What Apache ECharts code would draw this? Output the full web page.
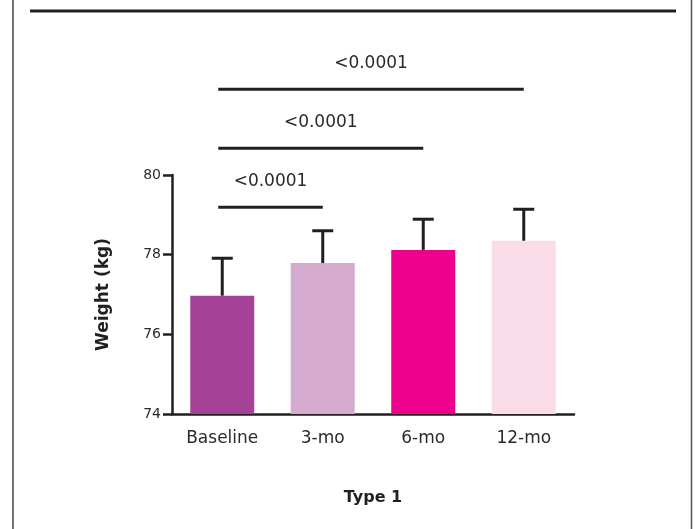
<!DOCTYPE html>
<html>
<head>
<meta charset="utf-8">
<script src="https://cdn.jsdelivr.net/npm/echarts@6/dist/echarts.min.js"></script>
<style>html,body{margin:0;padding:0;background:#fff;}#c{width:696px;height:529px;}</style>
</head>
<body>
<div id="c"></div>
<script>
const categories = ['Baseline', '3-mo', '6-mo', '12-mo'];
const means = [76.97, 77.79, 78.12, 78.35];
const upperErr = [77.91, 78.60, 78.89, 79.14];
const barColors = ['#A54196', '#D4AACF', '#EC008C', '#FBDDEA'];
const yTicks = [74, 76, 78, 80];
const bracketTargets = ['3-mo', '6-mo', '12-mo'];
const bracketLevels = [79.19, 80.67, 82.15];
const bracketLabels = ['<0.0001', '<0.0001', '<0.0001'];

const INK = '#231F20';
const FONT = 'DejaVu Sans';

const chart = echarts.init(document.getElementById('c'), null, {renderer: 'canvas'});
chart.setOption({
  animation: false,
  backgroundColor: '#fff',
  textStyle: {fontFamily: FONT},
  grid: {left: 172, top: 175, width: 402, height: 239, containLabel: false},
  xAxis: {
    type: 'category',
    data: categories,
    name: 'Type 1',
    nameLocation: 'middle',
    nameGap: 76,
    nameTextStyle: {fontFamily: FONT, fontWeight: 'bold', fontSize: 16, color: INK},
    axisLine: {lineStyle: {color: INK, width: 2.5}},
    axisTick: {alignWithLabel: true, length: 9, lineStyle: {color: INK, width: 2.5}},
    axisLabel: {fontFamily: FONT, fontSize: 17, color: '#2a2a2a', margin: 16},
    splitLine: {show: false}
  },
  yAxis: {
    type: 'value',
    min: yTicks[0],
    max: yTicks[yTicks.length - 1],
    interval: 2,
    name: 'Weight (kg)',
    nameLocation: 'middle',
    nameRotate: 90,
    nameGap: 60,
    nameTextStyle: {fontFamily: FONT, fontWeight: 'bold', fontSize: 17, color: INK},
    axisLine: {show: true, lineStyle: {color: INK, width: 2.5}},
    axisTick: {show: true, length: 9, lineStyle: {color: INK, width: 2.5}},
    axisLabel: {fontFamily: FONT, fontSize: 14, color: '#2a2a2a', margin: 11},
    splitLine: {show: false}
  },
  series: [
    {
      type: 'bar',
      data: means,
      barWidth: 64,
      itemStyle: {color: p => barColors[p.dataIndex]},
      z: 2
    },
    {
      type: 'custom',
      data: categories.map((c, i) => [i, means[i], upperErr[i]]),
      z: 3,
      renderItem: function (params, api) {
        const b = api.coord([api.value(0), api.value(1)]);
        const t = api.coord([api.value(0), api.value(2)]);
        const style = {stroke: INK, lineWidth: 3};
        return {
          type: 'group',
          children: [
            {type: 'line', shape: {x1: b[0], y1: b[1], x2: t[0], y2: t[1]}, style: style},
            {type: 'line', shape: {x1: t[0] - 10.5, y1: t[1], x2: t[0] + 10.5, y2: t[1]}, style: style}
          ]
        };
      }
    },
    {
      type: 'custom',
      clip: false,
      data: bracketTargets.map((c, i) => [categories.indexOf(c), bracketLevels[i], i]),
      z: 4,
      renderItem: function (params, api) {
        const s = api.coord([0, api.value(1)]);
        const e = api.coord([api.value(0), api.value(1)]);
        const x1 = s[0] - 4;
        const mid = (x1 + e[0]) / 2;
        return {
          type: 'group',
          children: [
            {type: 'line', shape: {x1: x1, y1: s[1], x2: e[0], y2: e[1]}, style: {stroke: INK, lineWidth: 3}},
            {type: 'text', x: mid, y: s[1] - 26, style: {
              text: bracketLabels[api.value(2)], fill: '#2a2a2a', font: '17px "' + FONT + '"',
              textAlign: 'center', textVerticalAlign: 'middle'
            }}
          ]
        };
      }
    }
  ],
  graphic: [
    {type: 'line', silent: true, shape: {x1: 13, y1: 0, x2: 13, y2: 529}, style: {stroke: '#444', lineWidth: 1.5}},
    {type: 'line', silent: true, shape: {x1: 691.5, y1: 0, x2: 691.5, y2: 529}, style: {stroke: '#555', lineWidth: 1.5}},
    {type: 'line', silent: true, shape: {x1: 30, y1: 11, x2: 676, y2: 11}, style: {stroke: INK, lineWidth: 3}}
  ]
});
</script>
</body>
</html>
